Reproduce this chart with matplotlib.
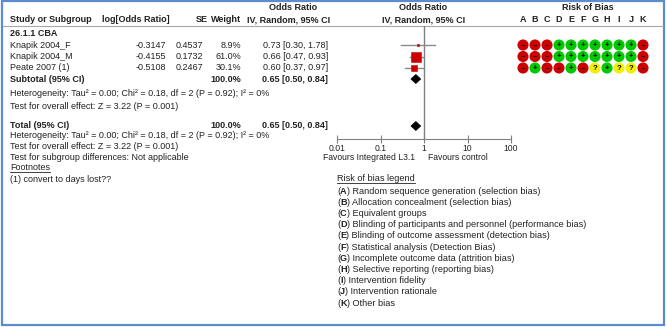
import numpy as np
import matplotlib
matplotlib.use('Agg')
import matplotlib.pyplot as plt
from matplotlib.patches import Polygon, Rectangle
from matplotlib.ticker import FixedLocator, FixedFormatter, NullLocator

plt.rcParams['font.family'] = ['Liberation Sans', 'DejaVu Sans']

# ---- data ----
studies = ['Knapik 2004_F', 'Knapik 2004_M', 'Peate 2007 (1)']
log_or = ['-0.3147', '-0.4155', '-0.5108']
se = ['0.4537', '0.1732', '0.2467']
weight = [8.9, 61.0, 30.1]
or_est = [0.73, 0.66, 0.60]
or_lo = [0.30, 0.47, 0.37]
or_hi = [1.78, 0.93, 0.97]
pooled_est, pooled_lo, pooled_hi = 0.65, 0.50, 0.84
axis_ticks = [0.01, 0.1, 1, 10, 100]
axis_labels = ['0.01', '0.1', '1', '10', '100']
rob_domains = ['A', 'B', 'C', 'D', 'E', 'F', 'G', 'H', 'I', 'J', 'K']
rob_knapik_f = ['-', '-', '-', '+', '+', '+', '+', '+', '+', '+', '-']
rob_knapik_m = ['-', '-', '-', '+', '+', '+', '+', '+', '+', '+', '-']
rob_peate = ['-', '+', '-', '-', '+', '-', '?', '+', '?', '?', '-']
rob_rows = [rob_knapik_f, rob_knapik_m, rob_peate]
legend_items = [
    ('A', 'Random sequence generation (selection bias)'),
    ('B', 'Allocation concealment (selection bias)'),
    ('C', 'Equivalent groups'),
    ('D', 'Blinding of participants and personnel (performance bias)'),
    ('E', 'Blinding of outcome assessment (detection bias)'),
    ('F', 'Statistical analysis (Detection Bias)'),
    ('G', 'Incomplete outcome data (attrition bias)'),
    ('H', 'Selective reporting (reporting bias)'),
    ('I', 'Intervention fidelity'),
    ('J', 'Intervention rationale'),
    ('K', 'Other bias'),
]
het_text = 'Heterogeneity: Tau\u00b2 = 0.00; Chi\u00b2 = 0.18, df = 2 (P = 0.92); I\u00b2 = 0%'
overall_text = 'Test for overall effect: Z = 3.22 (P = 0.001)'

# ---- layout (pixels) ----
W, H = 667, 327
FS = 6.5       # left table
FS_AX = 6.2    # forest axis labels
FS_LEG = 6.6   # risk of bias legend
TXT = '#222222'
row0, rstep = 45, 11.5
row_y = [row0 + rstep * i for i in range(len(studies))]
sub_y = row0 + rstep * len(studies) - 0.5
tot_y = 126
rob_col = {'-': '#CC0000', '+': '#00C800', '?': '#F0F000'}
rob_sym = {'-': '\u2013', '+': '+', '?': '?'}

fig = plt.figure(figsize=(W / 100, H / 100), dpi=100, facecolor='white')
ax0 = fig.add_axes([0, 0, 1, 1])
ax0.set_xlim(0, W); ax0.set_ylim(H, 0); ax0.axis('off')


def t(x, y, s, ha='left', bold=False, fs=FS, **kw):
    return ax0.text(x, y, s, ha=ha, va='center', fontsize=fs, color=TXT,
                    fontweight='bold' if bold else 'normal', **kw)


# frame + header rule
ax0.add_patch(Rectangle((2, 1), 662, 324, fill=False, ec='#5B8BD0', lw=1.6))
ax0.plot([3, 663], [26, 26], color='#A8A8A8', lw=0.8)

# header
t(10, 20, 'Study or Subgroup', bold=True)
t(102, 20, 'log[Odds Ratio]', bold=True)
t(208, 20, 'SE', ha='right', bold=True)
t(241, 20, 'Weight', ha='right', bold=True)
t(293, 7.5, 'Odds Ratio', ha='center', bold=True)
t(289, 20, 'IV, Random, 95% CI', ha='center', bold=True)
t(423.5, 7.5, 'Odds Ratio', ha='center', bold=True)
t(424, 20, 'IV, Random, 95% CI', ha='center', bold=True)
t(588, 7.5, 'Risk of Bias', ha='center', bold=True)

# left table
t(10, 33, '26.1.1 CBA', bold=True)
for i, name in enumerate(studies):
    y = row_y[i]
    t(10, y, name)
    t(166, y, log_or[i], ha='right')
    t(203, y, se[i], ha='right')
    t(241, y, f'{weight[i]:.1f}%', ha='right')
    t(328, y, f'{or_est[i]:.2f} [{or_lo[i]:.2f}, {or_hi[i]:.2f}]', ha='right')
ci_pooled = f'{pooled_est:.2f} [{pooled_lo:.2f}, {pooled_hi:.2f}]'
t(10, sub_y, 'Subtotal (95% CI)', bold=True)
t(241, sub_y, f'{sum(weight):.1f}%', ha='right', bold=True)
t(328, sub_y, ci_pooled, ha='right', bold=True)
t(10, 93, het_text)
t(10, 106.5, overall_text)
t(10, tot_y, 'Total (95% CI)', bold=True)
t(241, tot_y, f'{sum(weight):.1f}%', ha='right', bold=True)
t(328, tot_y, ci_pooled, ha='right', bold=True)
t(10, 135.5, het_text)
t(10, 146.5, overall_text)
t(10, 157, 'Test for subgroup differences: Not applicable')
foot = t(10, 168, 'Footnotes')
t(10, 179, '(1) convert to days lost??')

# forest axes
fx0, fx1, fy0, fy1 = 337, 511, 26, 139
axf = fig.add_axes([fx0 / W, 1 - fy1 / H, (fx1 - fx0) / W, (fy1 - fy0) / H])
axf.set_xscale('log')
axf.set_xlim(0.01, 100)
axf.set_ylim(fy1, fy0)
axf.patch.set_alpha(0)
for s in ['top', 'left', 'right']:
    axf.spines[s].set_visible(False)
axf.spines['bottom'].set_color('#808080')
axf.xaxis.set_major_locator(FixedLocator(axis_ticks))
axf.xaxis.set_major_formatter(FixedFormatter(axis_labels))
axf.xaxis.set_minor_locator(NullLocator())
axf.yaxis.set_major_locator(NullLocator())
axf.tick_params(axis='x', direction='inout', length=6, width=0.8,
                color='#808080', labelsize=FS_AX, labelcolor=TXT, pad=0.5)
axf.axvline(1, color='#808080', lw=1)
for i in range(len(studies)):
    y = row_y[i]
    axf.plot([or_lo[i], or_hi[i]], [y, y], color='#8A8A8A', lw=1, clip_on=False)
    side = 10 * (weight[i] / max(weight)) ** 0.7
    axf.plot(or_est[i], y, marker='s', ms=side * 0.72, color='#CC0000',
             mec='#CC0000', mew=0.4, clip_on=False, zorder=3)
for y in [sub_y, tot_y]:
    axf.add_patch(Polygon([(pooled_lo, y), (pooled_est, y - 4.5),
                           (pooled_hi, y), (pooled_est, y + 4.5)],
                          closed=True, fc='black', ec='black', lw=0.5,
                          clip_on=False))
t(415, 158, 'Favours Integrated L3.1', ha='right', fs=FS_AX)
t(428, 158, 'Favours control', fs=FS_AX)

# risk of bias axes
rx_first, rstep_x = 523, 12
nd = len(rob_domains)
rl = rx_first - rstep_x / 2
axr = fig.add_axes([rl / W, 1 - fy1 / H, nd * rstep_x / W, (fy1 - fy0) / H])
axr.set_xlim(-0.5, nd - 0.5)
axr.set_ylim(fy1, fy0)
axr.patch.set_alpha(0)
for s in axr.spines.values():
    s.set_visible(False)
axr.xaxis.tick_top()
axr.set_xticks(range(nd))
axr.set_xticklabels(rob_domains, fontsize=FS, fontweight='bold', color=TXT)
axr.tick_params(axis='x', length=0, pad=1.2)
axr.yaxis.set_major_locator(NullLocator())
for i, judg in enumerate(rob_rows):
    xs = np.arange(nd)
    axr.scatter(xs, [row_y[i]] * nd, s=64, c=[rob_col[j] for j in judg],
                edgecolors='none', clip_on=False, zorder=2)
    for k, j in enumerate(judg):
        axr.text(k, row_y[i] + 0.3, rob_sym[j], ha='center', va='center',
                 fontsize=5.5, fontweight='bold', color='black', zorder=3)

# risk of bias legend: "(" + bold letter + ") description", chained
leg_hdr = t(337, 178.5, 'Risk of bias legend', fs=FS_LEG)
for i, (letter, desc) in enumerate(legend_items):
    p1 = ax0.text(337, 191 + 11.2 * i, '(', ha='left', va='bottom',
                  fontsize=FS_LEG, color=TXT)
    p1.set_va('center')
    p2 = ax0.annotate(letter, xy=(1, 0), xycoords=p1, ha='left', va='bottom',
                      fontsize=FS_LEG, fontweight='bold', color=TXT)
    ax0.annotate(') ' + desc, xy=(1, 0), xycoords=p2, ha='left', va='bottom',
                 fontsize=FS_LEG, color=TXT)

# underline headings
fig.canvas.draw()
inv = ax0.transData.inverted()
for txt in [foot, leg_hdr]:
    bb = txt.get_window_extent()
    (x0, yb), (x1, _) = inv.transform([[bb.x0, bb.y0], [bb.x1, bb.y1]])
    ax0.plot([x0, x1], [yb - 0.3, yb - 0.3], color=TXT, lw=0.6)

fig.savefig('out.png', dpi=100, facecolor='white')
